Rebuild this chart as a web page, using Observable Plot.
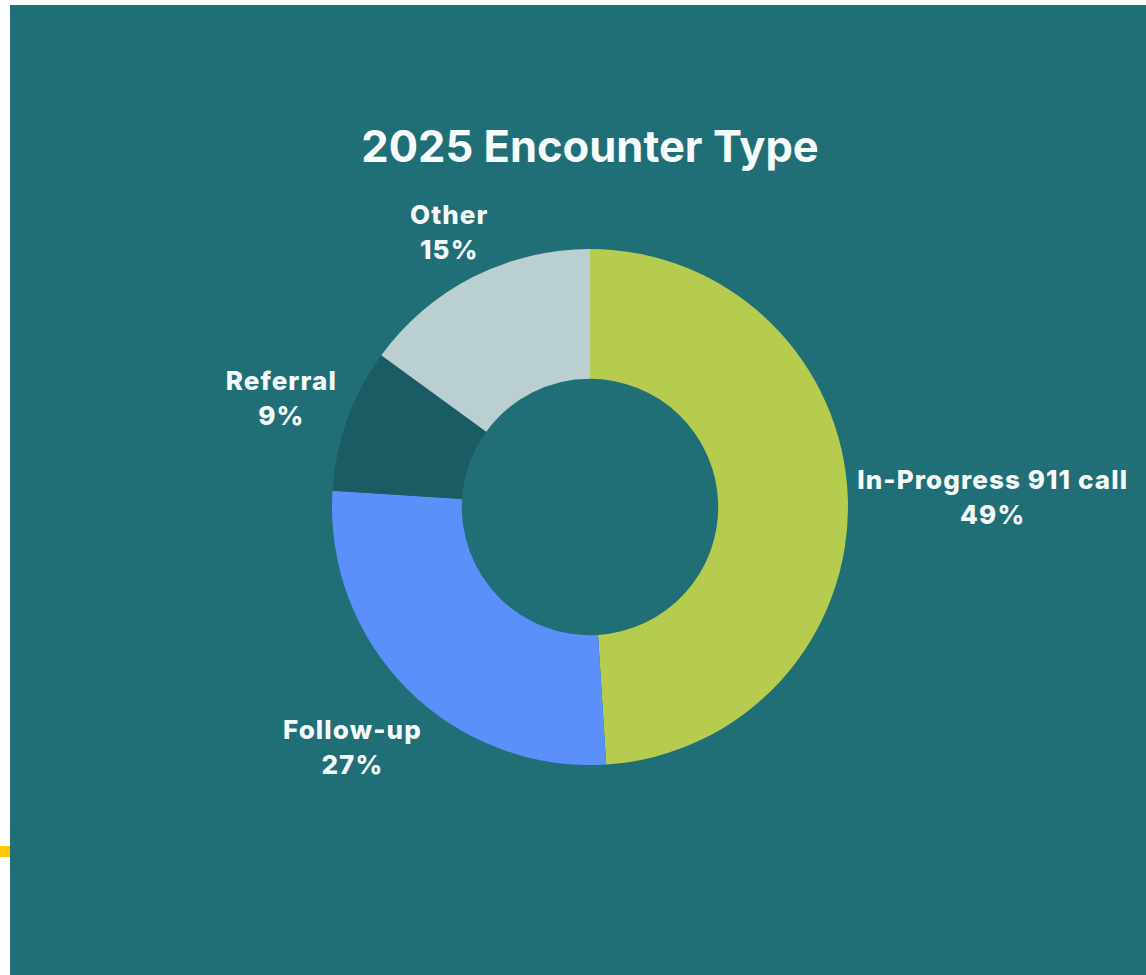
<!DOCTYPE html>
<html><head><meta charset="utf-8">
<script src="https://cdn.jsdelivr.net/npm/d3@7"></script>
<script src="https://cdn.jsdelivr.net/npm/@observablehq/plot@0.6"></script>
<style>
html,body{margin:0;padding:0;background:#fff;width:1146px;height:975px;overflow:hidden}
#panel{position:absolute;left:10px;top:5px;width:1136px;height:970px;background:#216f76;overflow:hidden}
#mark{position:absolute;left:0;top:846px;width:10px;height:11px;background:#ffc800}
#title{position:absolute;left:0;top:116px;width:1160px;text-align:center;margin:0;
  font-family:Inter,"Noto Sans",sans-serif;font-weight:700;font-size:43.5px;line-height:50px;color:#f6fbfb}
#chart{position:absolute;left:0;top:180px}
#chart text{letter-spacing:1.1px}
</style></head>
<body>
<div id="panel"><div id="title">2025 Encounter Type</div><div id="chart"></div></div>
<div id="mark"></div>
<script>
// ---- data ----
const categories = ["In-Progress 911 call", "Follow-up", "Referral", "Other"];
const percents = [49, 27, 9, 15];
const percentLabels = ["49%", "27%", "9%", "15%"];
// ---- style ----
const sliceColors = ["#b5cc4f", "#5b8ff9", "#1b5b63", "#b9cfd1"];
const unit = 258;            // px per outer radius
const innerRatio = 0.497;
const labelGap = 266 / unit;
const fontSize = 26, lineHeight = 1.35, letterSpacing = 1.1;
const labelFont = `800 ${fontSize}px Inter`;
const W = 1136, H = 790;
const cxPage = 580, cyPage = 322; // donut centre inside the svg (px)

const table = categories.map((c, i) => ({category: c, value: percents[i], label: `${c}\n${percentLabels[i]}`}));
const pie = d3.pie().sort(null).value(d => d.value)(table);

const ctx = document.createElement("canvas").getContext("2d");
ctx.font = labelFont;
const labels = pie.map(p => {
  const a = (p.startAngle + p.endAngle) / 2;
  const w = Math.max(...p.data.label.split("\n").map(s => ctx.measureText(s).width + letterSpacing * s.length));
  const h = fontSize * lineHeight + fontSize;
  const s = Math.sin(a), c = Math.cos(a);
  const D = labelGap + (w / 2 * Math.abs(s) + h / 2 * Math.abs(c)) / unit;
  return {label: p.data.label, x: s * D, y: c * D};
});

function donut(index, scales, values, dimensions, context) {
  const cx = scales.x(0), cy = scales.y(0);
  const r = scales.x(1) - cx;
  const color = scales.color || d3.scaleOrdinal(categories, sliceColors);
  const arc = d3.arc().innerRadius(r * innerRatio).outerRadius(r);
  const g = d3.create("svg:g").attr("transform", `translate(${cx},${cy})`);
  g.selectAll("path").data(pie).join("path")
    .attr("d", arc).attr("fill", d => color(d.data.category));
  return g.node();
}

const plot = Plot.plot({
  width: W, height: H,
  margin: 0,
  style: {background: "transparent", overflow: "visible"},
  x: {domain: [-cxPage / unit, (W - cxPage) / unit], axis: null},
  y: {domain: [-(H - cyPage) / unit, cyPage / unit], axis: null},
  color: {domain: categories, range: sliceColors},
  marks: [
    donut,
    Plot.text(labels, {x: "x", y: "y", text: "label", fill: "#f4fafa",
      fontSize, fontWeight: 800, fontFamily: "Inter", lineHeight, textAnchor: "middle"})
  ]
});
document.getElementById("chart").appendChild(plot);
</script>
</body></html>
